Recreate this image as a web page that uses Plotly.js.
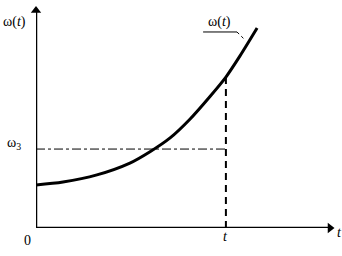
<!DOCTYPE html>
<html><head><meta charset="utf-8">
<script src="https://cdn.plot.ly/plotly-3.0.1.min.js"></script>
<style>html,body{margin:0;padding:0;background:#fff}#c{width:342px;height:256px}</style>
</head><body><div id="c"></div>
<script>
// Data
const tCurve = [0, 0.9, 2.03, 3.13, 3.8, 4.47, 5.13, 5.8, 6.33, 6.8, 7.37];
const omegaCurve = [1.93, 2.06, 2.38, 2.91, 3.42, 4.04, 4.88, 5.9, 6.77, 7.72, 8.97];
const tMark = 6.33;
const omegaAtT = 6.77;
const omega3 = 3.54;
const axisMaxX = 9.8;
const axisMaxY = 9.75;
const labels = {yAxis: 'ω(<i>t</i>)', curve: 'ω(<i>t</i>)', omega3: 'ω<sub>3</sub>', origin: '0', tTick: '<i>t</i>', xAxis: '<i>t</i>'};

const font = {family: '"Liberation Serif", "Times New Roman", serif', size: 14, color: '#000'};
const blk = '#000';

const traces = [
  // axes
  {x: [0, 0], y: [0, axisMaxY], mode: 'lines', line: {color: blk, width: 2.5}, cliponaxis: false, hoverinfo: 'skip'},
  {x: [0, axisMaxX], y: [0, 0], mode: 'lines', line: {color: blk, width: 2.5}, cliponaxis: false, hoverinfo: 'skip'},
  {x: [0], y: [axisMaxY], mode: 'markers', marker: {symbol: 'triangle-up', size: 9, color: blk}, cliponaxis: false, hoverinfo: 'skip'},
  {x: [axisMaxX], y: [0], mode: 'markers', marker: {symbol: 'triangle-right', size: 9, color: blk}, cliponaxis: false, hoverinfo: 'skip'},
  // curve
  {x: tCurve, y: omegaCurve, mode: 'lines', line: {color: blk, width: 3, shape: 'spline', smoothing: 0.8}, hoverinfo: 'skip'},
  // guides
  {x: [tMark, tMark], y: [0, omegaAtT], mode: 'lines', line: {color: blk, width: 2, dash: '7px,5px'}, hoverinfo: 'skip'},
  {x: [0, tMark], y: [omega3, omega3], mode: 'lines', line: {color: blk, width: 1, dash: 'dashdot'}, hoverinfo: 'skip'}
];

const ann = (x, y, text) => ({xref: 'paper', yref: 'paper', x: x, y: y, xanchor: 'center', yanchor: 'middle', text: text, showarrow: false, font: font});

const layout = {
  width: 342, height: 256,
  margin: {l: 36, r: 6, t: 5, b: 28},
  paper_bgcolor: '#fff', plot_bgcolor: '#fff',
  showlegend: false,
  xaxis: {range: [0, 10], showgrid: false, zeroline: false, showticklabels: false, showline: false, ticks: '', fixedrange: true},
  yaxis: {range: [0, 10], showgrid: false, zeroline: false, showticklabels: false, showline: false, ticks: '', fixedrange: true},
  shapes: [
    {type: 'line', xref: 'paper', yref: 'paper', x0: 0.557, x1: 0.67, y0: 0.879, y1: 0.879, line: {color: blk, width: 1}},
    {type: 'line', xref: 'paper', yref: 'paper', x0: 0.67, x1: 0.697, y0: 0.879, y1: 0.843, line: {color: blk, width: 1, dash: 'dot'}}
  ],
  annotations: [
    ann(-0.07, 0.924, labels.yAxis),
    ann(0.613, 0.924, labels.curve),
    ann(-0.073, 0.377, labels.omega3),
    ann(-0.03, -0.054, labels.origin),
    ann(0.633, -0.036, labels.tTick),
    ann(1.01, -0.022, labels.xAxis)
  ]
};

Plotly.newPlot('c', traces, layout, {staticPlot: true, displayModeBar: false});
</script>
</body></html>
